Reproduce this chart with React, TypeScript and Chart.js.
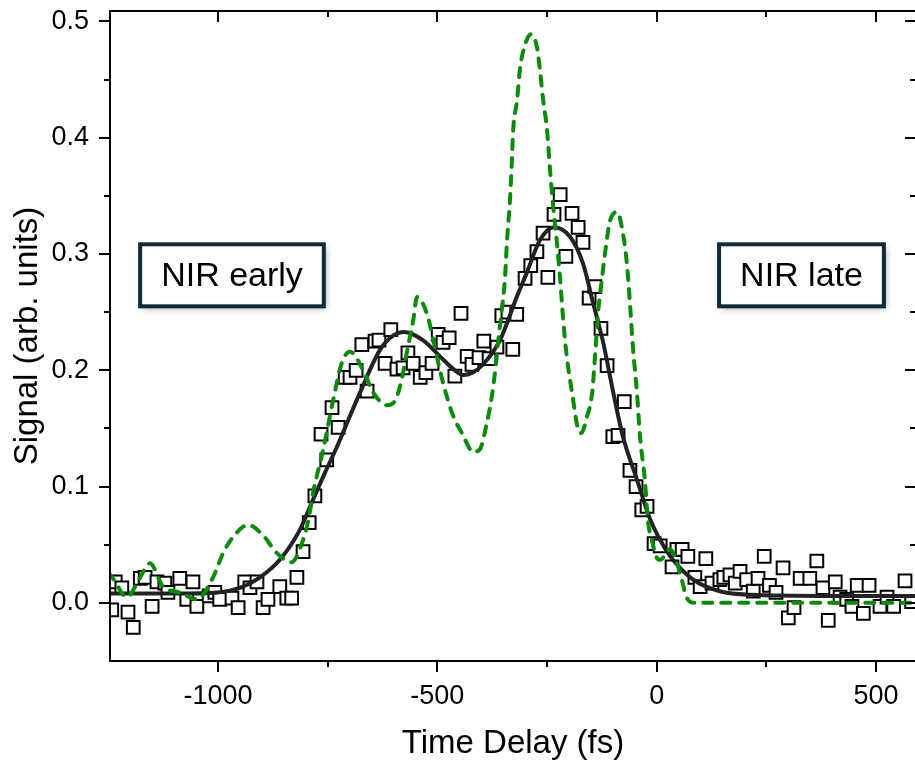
import React, { useEffect, useRef } from "react";
import { Chart, registerables } from "chart.js";

Chart.register(...registerables);

// ---------- data ----------
const delayFs = [
  -1242, -1234, -1219, -1205, -1193, -1177, -1166, -1150, -1139, -1121, -1114, -1087, -1071, -1057, -1048,
  -1020, -1007, -996, -968, -954, -939, -927, -911, -897, -886, -859, -843, -832, -820, -806, -792,
  -779, -765, -752, -740, -726, -710, -699, -685, -672, -660, -642, -633, -619, -606, -592, -578,
  -567, -555, -539, -526, -512, -498, -487, -473, -460, -446, -432, -421, -405, -394, -382, -364,
  -353, -339, -328, -319, -300, -287, -273, -259, -248, -234, -220, -207, -193, -179, -168, -154,
  -141, -127, -113, -100, -88, -74, -61, -47, -34, -22, -6, 8, 35, 46, 58, 71, 87, 99, 112, 126,
  144, 153, 167, 179, 190, 205, 220, 231, 245, 257, 272, 288, 300, 313, 327, 349, 365, 379, 391,
  407, 418, 433, 445, 457, 471, 484, 509, 525, 540, 566, 581,
];
const signal = [
  -0.006, 0.018, 0.013, -0.008, -0.021, 0.021, 0.022, -0.003, 0.018, 0.017, 0.009, 0.021, 0.003, 0.018, -0.003,
  0.006, 0.009, 0.003, 0.004, -0.004, 0.018, 0.013, 0.018, -0.004, 0.003, 0.014, 0.004, 0.004, 0.022, 0.044, 0.069,
  0.092, 0.145, 0.123, 0.168, 0.151, 0.194, 0.194, 0.2, 0.222, 0.182, 0.225, 0.226, 0.206, 0.235, 0.201, 0.202,
  0.215, 0.206, 0.194, 0.198, 0.206, 0.231, 0.224, 0.228, 0.195, 0.249, 0.212, 0.205, 0.211, 0.225, 0.21, 0.22,
  0.247, 0.25, 0.218, 0.248, 0.279, 0.29, 0.302, 0.318, 0.28, 0.334, 0.351, 0.298, 0.335, 0.323, 0.31, 0.262,
  0.272, 0.236, 0.204, 0.143, 0.144, 0.173, 0.114, 0.1, 0.08, 0.083, 0.051, 0.049, 0.031, 0.046, 0.046, 0.04, 0.022, 0.014, 0.038, 0.017,
  0.02, 0.022, 0.024, 0.017, 0.027, 0.02, 0.01, 0.021, 0.04, 0.015, 0.009, 0.03, -0.013, -0.004, 0.021, 0.021, 0.036, 0.013, -0.015,
  0.018, 0.005, 0.003, -0.003, 0.015, -0.009, 0.015, -0.003, 0.005, -0.003, 0.019, 0.001,
];

const fitX = [
  -1250, -1100, -1000, -949, -904, -859, -813, -783, -756, -729, -676, -630, -600, -576, -533, -494, -460,
  -441, -420, -396, -357, -319, -296, -266, -234, -198, -168, -145, -122, -99, -77, -45, -15, 8, 37, 83,
  144, 212, 400, 600,
];
const fitY = [
  0.008, 0.008, 0.009, 0.013, 0.022, 0.037, 0.063, 0.089, 0.112, 0.134, 0.181, 0.218, 0.23, 0.233, 0.226, 0.212, 0.2,
  0.196, 0.198, 0.205, 0.226, 0.263, 0.284, 0.312, 0.323, 0.315, 0.292, 0.258, 0.224, 0.181, 0.143, 0.106, 0.072, 0.054, 0.037, 0.02,
  0.01, 0.007, 0.006, 0.006,
];

const modelX = [
  -1250, -1241, -1207, -1180, -1155, -1125, -1087, -1048, -1011, -988, -965, -931, -897, -866, -832, -806, -794,
  -783, -760, -737, -718, -699, -669, -646, -615, -600, -585, -567, -555, -546, -524, -509, -494, -478, -463,
  -444, -418, -403, -387, -376, -368, -361, -353, -346, -341, -334, -330, -327, -318, -312, -300, -286, -273,
  -266, -259, -250, -243, -236, -228, -220, -213, -205, -193, -179, -172, -159, -147, -140, -133, -125, -118,
  -106, -90, -77, -68, -61, -54, -45, -38, -27, -20, -11, 0, 8, 30, 53, 68, 85, 300, 600,
];
const modelY = [
  0.026, 0.022, 0.005, 0.02, 0.034, 0.014, 0.009, 0.003, 0.022, 0.043, 0.057, 0.067, 0.058, 0.043, 0.035, 0.054, 0.071,
  0.095, 0.132, 0.175, 0.206, 0.216, 0.2, 0.181, 0.17, 0.172, 0.186, 0.22, 0.243, 0.263, 0.249, 0.226, 0.2, 0.177, 0.16,
  0.146, 0.13, 0.132, 0.155, 0.177, 0.2, 0.226, 0.252, 0.278, 0.312, 0.349, 0.381, 0.407, 0.433, 0.458, 0.48, 0.489, 0.478,
  0.458, 0.433, 0.407, 0.372, 0.341, 0.312, 0.278, 0.243, 0.212, 0.181, 0.149, 0.146, 0.16, 0.181, 0.215, 0.252, 0.278, 0.3,
  0.329, 0.336, 0.318, 0.292, 0.258, 0.219, 0.181, 0.143, 0.106, 0.071, 0.054, 0.039, 0.037, 0.046, 0.026, 0.005, 0.0, 0.0, 0.0,
];

const xTickValues = [-1000, -500, 0, 500];
const xMinorValues = [-750, -250, 250];
const yTickValues = [0, 0.1, 0.2, 0.3, 0.4, 0.5];
const yMinorValues = [0.05, 0.15, 0.25, 0.35, 0.45];

const xTitle = "Time Delay (fs)";
const yTitle = "Signal (arb. units)";

const annotationTexts = ["NIR early", "NIR late"];
const annotationX = [-968, 330];
const annotationY = [0.2817, 0.2817];

const X_MIN = -1246;
const X_MAX = 591;
const Y_MIN = -0.05;
const Y_MAX = 0.509;

const GREEN = "#0a8c0a";
const FONT = "'Liberation Sans', Arial, sans-serif";

const framePlugin = {
  id: "frame",
  afterDraw(chart: any) {
    const { ctx, chartArea, scales } = chart;
    const { left, right, top, bottom } = chartArea;
    const xs = scales.x;
    const ys = scales.y;
    ctx.save();
    ctx.strokeStyle = "#000";
    ctx.lineWidth = 2;
    ctx.lineCap = "butt";
    ctx.strokeRect(left, top, right - left, bottom - top);
    const MAJ = 11;
    const MIN = 6;
    ctx.beginPath();
    xTickValues.forEach((v) => {
      const p = Math.round(xs.getPixelForValue(v));
      ctx.moveTo(p, bottom);
      ctx.lineTo(p, bottom + MAJ);
      ctx.moveTo(p, top);
      ctx.lineTo(p, top + MAJ);
    });
    xMinorValues.forEach((v) => {
      const p = Math.round(xs.getPixelForValue(v));
      ctx.moveTo(p, bottom);
      ctx.lineTo(p, bottom + MIN);
      ctx.moveTo(p, top);
      ctx.lineTo(p, top + MIN);
    });
    yTickValues.forEach((v) => {
      const p = Math.round(ys.getPixelForValue(v));
      ctx.moveTo(left - MAJ, p);
      ctx.lineTo(left, p);
      ctx.moveTo(right, p);
      ctx.lineTo(right - MAJ, p);
    });
    yMinorValues.forEach((v) => {
      const p = Math.round(ys.getPixelForValue(v));
      ctx.moveTo(left - MIN, p);
      ctx.lineTo(left, p);
      ctx.moveTo(right, p);
      ctx.lineTo(right - MIN, p);
    });
    ctx.stroke();

    // axis titles
    ctx.fillStyle = "#000";
    ctx.font = `33px ${FONT}`;
    ctx.textAlign = "center";
    ctx.textBaseline = "alphabetic";
    ctx.fillText(xTitle, (left + right) / 2, 753);
    ctx.save();
    ctx.translate(37, (top + bottom) / 2);
    ctx.rotate(-Math.PI / 2);
    ctx.fillText(yTitle, 0, 0);
    ctx.restore();

    // annotation boxes
    ctx.font = `34px ${FONT}`;
    annotationTexts.forEach((t, i) => {
      const cx = xs.getPixelForValue(annotationX[i]);
      const cy = ys.getPixelForValue(annotationY[i]);
      const w = ctx.measureText(t).width + 42;
      const h = 62;
      ctx.save();
      ctx.shadowColor = "rgba(0,0,0,0.35)";
      ctx.shadowBlur = 7;
      ctx.shadowOffsetX = 2;
      ctx.shadowOffsetY = 3;
      ctx.fillStyle = "#fff";
      ctx.fillRect(cx - w / 2, cy - h / 2, w, h);
      ctx.restore();
      ctx.strokeStyle = "#0f2a3a";
      ctx.lineWidth = 4;
      ctx.strokeRect(cx - w / 2, cy - h / 2, w, h);
      ctx.fillStyle = "#000";
      ctx.textAlign = "center";
      ctx.textBaseline = "middle";
      ctx.fillText(t, cx, cy + 1);
    });
    ctx.restore();
  },
};

export default function App() {
  const ref = useRef<HTMLCanvasElement | null>(null);
  useEffect(() => {
    if (!ref.current) return;
    const tickFont = { family: FONT, size: 27 };
    const chart = new Chart(ref.current, {
      type: "scatter",
      data: {
        datasets: [
          {
            label: "Model",
            data: modelX.map((x, i) => ({ x, y: modelY[i] })),
            showLine: true,
            borderColor: GREEN,
            backgroundColor: GREEN,
            borderWidth: 4,
            borderDash: [9, 9],
            borderCapStyle: "round",
            pointRadius: 0,
            cubicInterpolationMode: "monotone",
          } as any,
          {
            label: "Fit",
            data: fitX.map((x, i) => ({ x, y: fitY[i] })),
            showLine: true,
            borderColor: "#222",
            backgroundColor: "#222",
            borderWidth: 4,
            pointRadius: 0,
            cubicInterpolationMode: "monotone",
          } as any,
          {
            label: "Data",
            data: delayFs.map((x, i) => ({ x, y: signal[i] })),
            showLine: false,
            pointStyle: "rect",
            pointRadius: 9,
            pointBorderWidth: 2,
            pointBorderColor: "#000",
            pointBackgroundColor: "#fff",
          } as any,
        ],
      },
      options: {
        animation: false,
        responsive: false,
        events: [],
        layout: { padding: { left: 0, top: 11, right: 14, bottom: 0 } },
        plugins: { legend: { display: false }, tooltip: { enabled: false } },
        scales: {
          x: {
            type: "linear",
            min: X_MIN,
            max: X_MAX,
            grid: { display: false, drawTicks: false },
            border: { display: false },
            ticks: { font: tickFont, color: "#000", padding: 19, maxRotation: 0, callback: (v: any) => String(v) },
            afterBuildTicks: (s: any) => {
              s.ticks = xTickValues.map((v) => ({ value: v }));
            },
            afterFit: (s: any) => {
              s.height = 102;
              s.paddingLeft = 0;
              s.paddingRight = 0;
            },
          },
          y: {
            type: "linear",
            min: Y_MIN,
            max: Y_MAX,
            grid: { display: false, drawTicks: false },
            border: { display: false },
            ticks: { font: tickFont, color: "#000", padding: 21, callback: (v: any) => Number(v).toFixed(1) },
            afterBuildTicks: (s: any) => {
              s.ticks = yTickValues.map((v) => ({ value: v }));
            },
            afterFit: (s: any) => {
              s.width = 110;
              s.paddingTop = 0;
              s.paddingBottom = 0;
            },
          },
        },
      } as any,
      plugins: [framePlugin],
    });
    return () => chart.destroy();
  }, []);
  return (
    <div style={{ position: "absolute", left: 0, top: 0, width: 915, height: 763, overflow: "hidden", background: "#fff" }}>
      <canvas ref={ref} width={930} height={763} style={{ display: "block" }} />
    </div>
  );
}
